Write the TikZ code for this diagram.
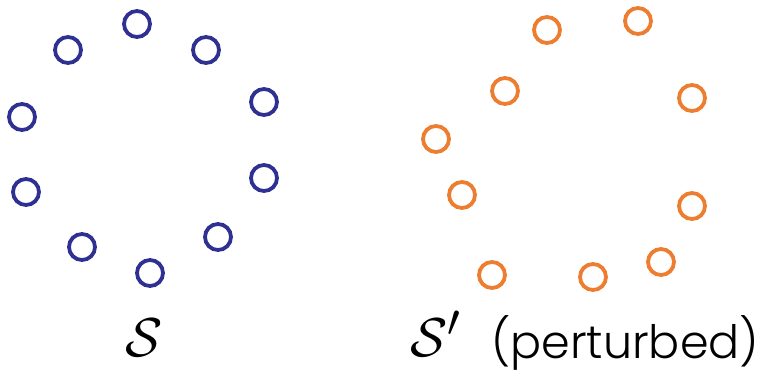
\documentclass[tikz,border=0pt]{standalone}
\usepackage{fontspec}
\setsansfont{Poppins}[UprightFont={* Light}]
\usepackage{amsmath}
\usetikzlibrary{positioning}
\definecolor{orig}{RGB}{46,49,146}
\definecolor{pert}{RGB}{237,125,49}

\begin{document}
\begin{tikzpicture}[
  x=1pt, y=-1pt,
  pt/.style={circle, line width=3.8pt, minimum size=26pt, inner sep=0pt},
  opt/.style={pt, draw=orig},
  ppt/.style={pt, draw=pert},
  lbl/.style={inner sep=0pt, anchor=base},
  setlbl/.style={lbl, scale=2.2, font=\Huge}
]
\path[use as bounding box] (0,0) rectangle (770,375);

% original set
\node[opt] (s1) at (137,24) {};
\node[opt] (s2) at (68,50) {};
\node[opt] (s3) at (206,50) {};
\node[opt] (s4) at (264,102) {};
\node[opt] (s5) at (22,117) {};
\node[opt] (s6) at (264,178) {};
\node[opt] (s7) at (26,192) {};
\node[opt] (s8) at (218,237) {};
\node[opt] (s9) at (82,247) {};
\node[opt] (s10) at (150,273) {};

% perturbed set
\node[ppt] (p1) at (547,30) {};
\node[ppt] (p2) at (638,21) {};
\node[ppt] (p3) at (505,91) {};
\node[ppt] (p4) at (692,98) {};
\node[ppt] (p5) at (436,139) {};
\node[ppt] (p6) at (462,195) {};
\node[ppt] (p7) at (692,206) {};
\node[ppt] (p8) at (661,262) {};
\node[ppt] (p9) at (492,275) {};
\node[ppt] (p10) at (593,277) {};

% labels
\node[setlbl] (setS) at (144,356) {$\mathcal{S}$};
\node[setlbl, anchor=base west] (setSp) at (410,356) {$\mathcal{S}'$};
\node[lbl, anchor=base west, font=\sffamily\fontsize{46}{46}\selectfont]
  (pertlbl) at (491,358) {(perturbed)};

\end{tikzpicture}
\end{document}
